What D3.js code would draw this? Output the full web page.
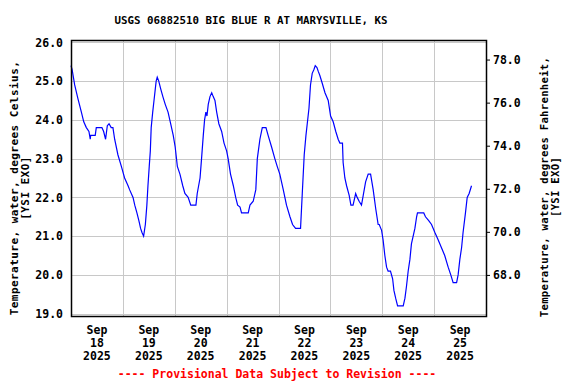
<!DOCTYPE html>
<html>
<head>
<meta charset="utf-8">
<script src="https://cdn.jsdelivr.net/npm/d3@7"></script>
<style>
  body { margin: 0; background: #fff; }
  svg text { font-family: "DejaVu Sans Mono", monospace; font-weight: bold; }
</style>
</head>
<body>
<svg id="chart" width="576" height="384"></svg>
<script>
// hours since 2025-09-18 00:00 (local) and water temperature, deg C
var hours = [0, 0.5, 1.7, 3.2, 4.8, 5.9, 7.1, 8.3, 8.9, 9.1, 11.2, 11.7, 14.3, 15.1, 16.0, 16.8, 17.6, 18.6, 19.4,
  20.2, 21.7, 23.3, 24.8, 26.4, 27.1, 28.7, 29.5, 30.5, 31.4, 32.2, 32.8, 33.6, 34.4, 35.1, 35.6, 36.2, 36.7,
  37.1, 37.8, 38.4, 39.0, 39.4, 39.9, 40.6, 41.5, 42.5, 43.6, 44.9, 46.1, 47.3, 48.2, 49.2, 50.4, 51.7, 52.7,
  54.2, 55.4, 57.8, 58.4, 59.7, 60.4, 61.2, 61.8, 62.4, 62.9, 63.5, 64.3, 65.1, 65.8, 66.6, 67.4, 68.4, 69.7,
  70.8, 72.0, 72.7, 73.8, 75.1, 76.2, 77.1, 78.2, 78.9, 82.0, 82.8, 84.3, 85.5, 86.2, 87.4, 88.5, 90.2, 91.2,
  92.8, 94.3, 95.4, 96.6, 98.2, 99.7, 101.3, 102.5, 103.9, 106.2, 107.0, 107.9, 108.7, 109.3, 110.1, 110.8,
  111.6, 112.4, 113.0, 113.8, 114.4, 115.1, 116.2, 117.5, 119.0, 120.1, 121.3, 122.5, 123.6, 124.4, 125.6,
  125.9, 126.7, 127.5, 128.7, 129.5, 130.5, 131.7, 132.4, 133.3, 134.4, 135.2, 136.3, 137.5, 138.6, 139.8,
  141.0, 142.1, 142.6, 143.7, 144.4, 145.2, 146.0, 146.7, 147.8, 148.8, 149.4, 150.2, 151.1, 153.7, 154.5,
  155.2, 156.0, 156.8, 157.5, 158.3, 159.1, 159.9, 160.3, 163.2, 164.0, 165.5, 166.8, 168.3, 169.9, 171.4,
  172.9, 174.5, 175.7, 176.8, 178.4, 179.1, 179.9, 180.7, 181.4, 182.5, 183.3, 184.2, 185.3];
var tempC = [25.4, 25.3, 24.9, 24.55, 24.2, 23.95, 23.8, 23.7, 23.5, 23.6, 23.6, 23.8, 23.8, 23.7, 23.5, 23.85, 23.9, 23.8, 23.8,
  23.5, 23.1, 22.8, 22.5, 22.3, 22.2, 22.0, 21.8, 21.6, 21.4, 21.2, 21.1, 21.0, 21.3, 21.8, 22.3, 22.8, 23.2,
  23.8, 24.2, 24.5, 24.8, 25.0, 25.1, 25.0, 24.8, 24.6, 24.4, 24.2, 23.9, 23.6, 23.3, 22.8, 22.6, 22.3, 22.1,
  22.0, 21.8, 21.8, 22.1, 22.5, 23.0, 23.6, 24.0, 24.2, 24.1, 24.4, 24.6, 24.7, 24.6, 24.5, 24.2, 23.9, 23.7,
  23.4, 23.2, 23.0, 22.6, 22.3, 22.0, 21.8, 21.75, 21.6, 21.6, 21.8, 21.9, 22.2, 23.0, 23.5, 23.8, 23.8, 23.6,
  23.3, 23.0, 22.8, 22.6, 22.2, 21.8, 21.5, 21.3, 21.2, 21.2, 22.1, 23.1, 23.6, 23.9, 24.3, 24.9,
  25.2, 25.3, 25.4, 25.35, 25.25, 25.15, 24.95, 24.7, 24.5, 24.1, 23.95, 23.7, 23.5, 23.4, 23.4,
  22.9, 22.5, 22.3, 22.05, 21.8, 21.8, 22.1, 22.0, 21.9, 21.8, 22.05, 22.4, 22.6, 22.6, 22.2,
  21.7, 21.3, 21.3, 21.15, 20.9, 20.5, 20.2, 20.1, 20.1, 19.9, 19.6, 19.4, 19.2, 19.2, 19.4,
  19.7, 20.1, 20.4, 20.8, 21.0, 21.2, 21.5, 21.6, 21.6, 21.5, 21.4, 21.3, 21.1, 20.9, 20.7,
  20.5, 20.2, 20.0, 19.8, 19.8, 20.0, 20.4, 20.7, 21.1, 21.6, 22.0, 22.1, 22.3];
var tickC = [19, 20, 21, 22, 23, 24, 25, 26];
var tickF = [68, 70, 72, 74, 76, 78];
var dayLabels = [18, 19, 20, 21, 22, 23, 24, 25];

var title = "USGS 06882510 BIG BLUE R AT MARYSVILLE, KS";
var leftTitle = ["Temperature, water, degrees Celsius,", "[YSI EXO]"];
var rightTitle = ["Temperature, water, degrees Fahrenheit,", "[YSI EXO]"];
var footer = "---- Provisional Data Subject to Revision ----";

var svg = d3.select("#chart");
var plotL = 71, plotR = 486, plotT = 40, plotB = 316;

var start = new Date(2025, 8, 18);
var toDate = function(h) { return new Date(start.getTime() + h * 3600e3); };
var data = hours.map(function(h, i) { return { t: toDate(h), v: tempC[i] }; });

var x = d3.scaleTime()
    .domain([start, new Date(2025, 8, 26)])
    .range([plotL, plotR]);
var y = d3.scaleLinear()
    .domain([18.94, 26.06])
    .range([plotB, plotT]);
var yF = d3.scaleLinear()
    .domain(y.domain().map(function(c) { return c * 1.8 + 32; }))
    .range(y.range());

// grid
var grid = svg.append("g").attr("stroke", "#c8c8c8").attr("stroke-width", 1);
grid.selectAll(".h").data(tickC).enter().append("line")
    .attr("x1", plotL).attr("x2", plotR)
    .attr("y1", function(d) { return Math.round(y(d)) + 0.5; })
    .attr("y2", function(d) { return Math.round(y(d)) + 0.5; });
grid.selectAll(".v").data(d3.range(1, 8)).enter().append("line")
    .attr("y1", plotT).attr("y2", plotB)
    .attr("x1", function(d) { return Math.round(x(toDate(d * 24))) + 0.5; })
    .attr("x2", function(d) { return Math.round(x(toDate(d * 24))) + 0.5; });

// data line
var line = d3.line()
    .x(function(d) { return x(d.t); })
    .y(function(d) { return y(d.v); });
svg.append("path")
    .datum(data)
    .attr("fill", "none")
    .attr("stroke", "#0000ff")
    .attr("stroke-width", 1.2)
    .attr("d", line);

// frame
svg.append("rect")
    .attr("x", plotL + 0.5).attr("y", plotT + 0.5)
    .attr("width", plotR - plotL).attr("height", plotB - plotT)
    .attr("fill", "none").attr("stroke", "#000").attr("stroke-width", 1.5);

// left axis
var yAxis = d3.axisLeft(y).tickValues(tickC).tickFormat(d3.format(".1f")).tickSize(0).tickPadding(8);
var cg = svg.append("g").attr("transform", "translate(" + plotL + ",0)").call(yAxis);
cg.select(".domain").remove();
cg.selectAll("text").attr("font-size", "11.5px").attr("fill", "#000")
    .attr("font-family", "DejaVu Sans Mono").attr("font-weight", "bold");

// right axis
var fAxis = d3.axisRight(yF).tickValues(tickF).tickFormat(d3.format(".1f")).tickSize(4).tickPadding(3);
var fg = svg.append("g").attr("transform", "translate(" + plotR + ",0)").call(fAxis);
fg.select(".domain").remove();
fg.selectAll("line").attr("stroke", "#000");
fg.selectAll("text").attr("font-size", "11.5px").attr("fill", "#000")
    .attr("font-family", "DejaVu Sans Mono").attr("font-weight", "bold");

// x labels at noon
var xl = svg.append("g").attr("font-size", "11.5px").attr("text-anchor", "middle");
dayLabels.forEach(function(d, i) {
  var cx = x(toDate(i * 24 + 12));
  var t = xl.append("text").attr("x", cx);
  t.append("tspan").attr("x", cx).attr("y", 334).text("Sep");
  t.append("tspan").attr("x", cx).attr("y", 347).text(d);
  t.append("tspan").attr("x", cx).attr("y", 360).text("2025");
});

// titles
svg.append("text").attr("x", 251).attr("y", 24).attr("text-anchor", "middle")
    .attr("font-size", "10.8px").text(title);

leftTitle.forEach(function(s, i) {
  svg.append("text").attr("transform", "translate(" + (18 + i * 11) + ",188) rotate(-90)")
      .attr("text-anchor", "middle").attr("font-size", "11px")
      .attr("letter-spacing", "0.45px").text(s);
});
rightTitle.forEach(function(s, i) {
  svg.append("text").attr("transform", "translate(" + (548 + i * 11) + ",187) rotate(-90)")
      .attr("text-anchor", "middle").attr("font-size", "10.6px")
      .attr("letter-spacing", "0.3px").text(s);
});

svg.append("text").attr("x", 277).attr("y", 378).attr("text-anchor", "middle")
    .attr("font-size", "11.5px").attr("fill", "#ff0000").text(footer);
</script>
</body>
</html>
